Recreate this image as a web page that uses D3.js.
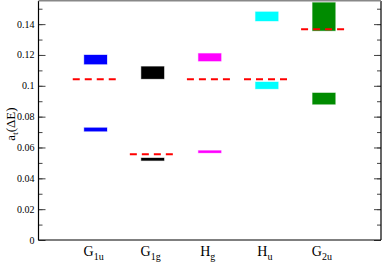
<!DOCTYPE html>
<html>
<head>
<meta charset="utf-8">
<script src="https://cdn.jsdelivr.net/npm/d3@7"></script>
<style>
  body { margin: 0; background: #fff; }
  text { font-family: "Liberation Serif", "DejaVu Serif", serif; fill: #000; }
</style>
</head>
<body>
<div id="chart"></div>
<script>
// symmetry labels
var labelMain = ["G", "G", "H", "H", "G"];
var labelSub = ["1u", "1g", "g", "u", "2u"];
var colors = ["#0000ff", "#000000", "#ff00ff", "#00ffff", "#008b00"];

// upper band, lower band and the dashed reference value per irrep
var upperLo = [0.114, 0.1045, 0.116, 0.142, 0.1357];
var upperHi = [0.120, 0.1125, 0.121, 0.148, 0.154];
var lowerLo = [0.0705, 0.0515, 0.0565, 0.098, 0.088];
var lowerHi = [0.0728, 0.0532, 0.058, 0.1025, 0.0954];
var refVal = [0.1043, 0.0556, 0.1043, 0.1043, 0.1366];

var yTicks = [0, 0.02, 0.04, 0.06, 0.08, 0.1, 0.12, 0.14];
var yTickLabels = ["0", "0.02", "0.04", "0.06", "0.08", "0.1", "0.12", "0.14"];

var width = 382, height = 264;
var mLeft = 38.5, mRight = 381, mTop = 1, mBottom = 240;

var svg = d3.select("#chart").append("svg")
  .attr("width", width).attr("height", height);

var x = d3.scaleLinear().domain([0, 6]).range([mLeft, mRight]);
var y = d3.scaleLinear().domain([0, 0.155]).range([mBottom, mTop]);

var idx = d3.range(labelMain.length);

// boxes
function bands(lo, hi, cls) {
  svg.selectAll("." + cls).data(idx).enter().append("rect")
    .attr("class", cls)
    .attr("x", function(i) { return x(i + 1 - 0.2); })
    .attr("width", function() { return x(0.4) - x(0); })
    .attr("y", function(i) { return y(hi[i]); })
    .attr("height", function(i) { return y(lo[i]) - y(hi[i]); })
    .attr("fill", function(i) { return colors[i]; })
    .attr("stroke", function(i) { return colors[i]; })
    .attr("stroke-opacity", 0.3)
    .attr("stroke-width", 1);
}
bands(upperLo, upperHi, "up");
bands(lowerLo, lowerHi, "low");

// dashed reference lines
svg.selectAll(".ref").data(idx).enter().append("line")
  .attr("class", "ref")
  .attr("x1", function(i) { return x(i + 1 - 0.4); })
  .attr("x2", function(i) { return x(i + 1 + 0.4); })
  .attr("y1", function(i) { return y(refVal[i]); })
  .attr("y2", function(i) { return y(refVal[i]); })
  .attr("stroke", "#ff0000")
  .attr("stroke-width", 2)
  .attr("stroke-dasharray", "7,5");

// axes
var minor = d3.range(0, 0.155, 0.01);
var gL = svg.append("g").attr("transform", "translate(" + mLeft + ",0)")
  .call(d3.axisRight(y).tickValues(yTicks).tickSize(7).tickFormat(""));
gL.select(".domain").remove();
var gLm = svg.append("g").attr("transform", "translate(" + mLeft + ",0)")
  .call(d3.axisRight(y).tickValues(minor).tickSize(4).tickFormat(""));
gLm.select(".domain").remove();

var gR = svg.append("g").attr("transform", "translate(" + mRight + ",0)")
  .call(d3.axisLeft(y).tickValues(yTicks).tickSize(7).tickFormat(""));
gR.select(".domain").remove();
var gRm = svg.append("g").attr("transform", "translate(" + mRight + ",0)")
  .call(d3.axisLeft(y).tickValues(minor).tickSize(4).tickFormat(""));
gRm.select(".domain").remove();

svg.selectAll(".tick line").attr("stroke", "#444").attr("stroke-width", 1);

// tick labels
svg.selectAll(".ylab").data(yTicks).enter().append("text")
  .attr("class", "ylab")
  .attr("x", mLeft - 4)
  .attr("y", function(d) { return y(d) + 3.5; })
  .attr("text-anchor", "end")
  .attr("font-size", 10)
  .text(function(d, i) { return yTickLabels[i]; });

// frame
svg.append("line").attr("x1", mLeft).attr("x2", mLeft).attr("y1", mTop).attr("y2", mBottom)
  .attr("stroke", "#000").attr("stroke-width", 1.2);
svg.append("line").attr("x1", mRight).attr("x2", mRight).attr("y1", mTop).attr("y2", mBottom)
  .attr("stroke", "#000").attr("stroke-width", 1.2);
svg.append("line").attr("x1", mLeft).attr("x2", mRight).attr("y1", mBottom).attr("y2", mBottom)
  .attr("stroke", "#000").attr("stroke-width", 1.2);
svg.append("line").attr("x1", mLeft).attr("x2", mRight).attr("y1", 0.8).attr("y2", 0.8)
  .attr("stroke", "#888").attr("stroke-width", 1.6);

// category labels
var xl = svg.selectAll(".xlab").data(idx).enter().append("text")
  .attr("class", "xlab")
  .attr("x", function(i) { return x(i + 1) - 2; })
  .attr("y", 256)
  .attr("text-anchor", "middle")
  .attr("font-size", 14);
xl.append("tspan").text(function(i) { return labelMain[i]; });
xl.append("tspan").attr("dy", 4).attr("font-size", 10)
  .text(function(i) { return labelSub[i]; });

// y label
var yl = svg.append("text")
  .attr("transform", "translate(15,124) rotate(-90)")
  .attr("text-anchor", "middle")
  .attr("font-size", 13);
yl.append("tspan").text("a");
yl.append("tspan").attr("dy", 3).attr("font-size", 9).text("t");
yl.append("tspan").attr("dy", -3).text("(ΔE)");
</script>
</body>
</html>
